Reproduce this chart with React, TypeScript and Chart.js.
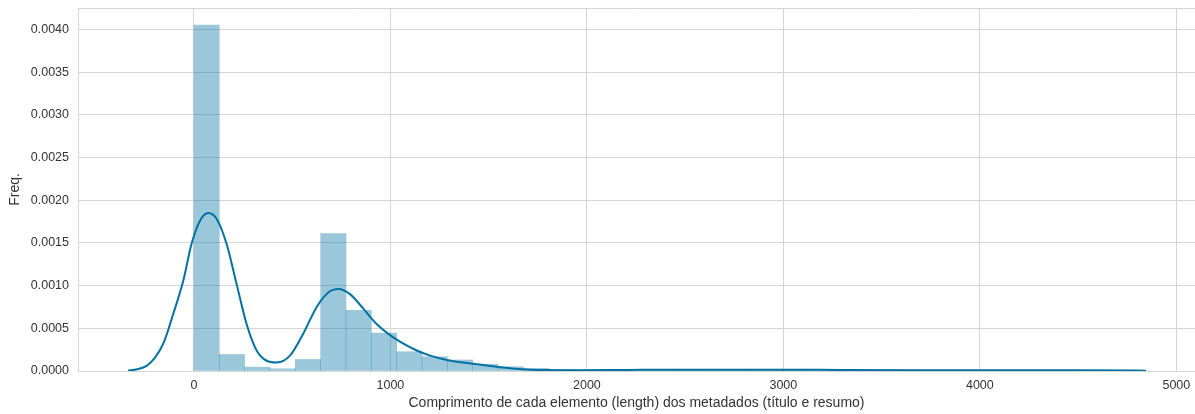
import React, { useEffect, useRef } from "react";
import { Chart, registerables } from "chart.js";

Chart.register(...registerables);

// Histogram bins (left edges, width) and density heights
const binWidth = 129;
const binLefts = [
  0, 129, 258, 387, 516, 645, 774, 903, 1032, 1161, 1290, 1419, 1548, 1677, 1806,
  1935, 2064, 2193, 2322, 2451, 2580, 2709, 2838, 2967, 3096, 3225, 3354, 3483,
  3612, 3741, 3870, 3999, 4128, 4257, 4386,
];
const binDensity = [
  0.00405, 0.000193, 0.000045, 0.000026, 0.000135, 0.00161, 0.00071, 0.000443,
  0.000226, 0.000167, 0.000129, 0.000078, 0.00005, 0.00003, 0.00002, 0.000012,
  0.000008, 0.000006, 0.000008, 0.00001, 0.000007, 0.000009, 0.000006, 0.000012,
  0.000008, 0.000005, 0.000007, 0.000004, 0.000006, 0.000003, 0.000005, 0.000002,
  0.000003, 0.000002, 0.000004,
];

// KDE curve
const kdeX = [
  -335, -290, -241, -200, -156, -105, -54, -12, 31, 73, 116, 166, 217, 268, 319,
  370, 421, 489, 557, 625, 684, 735, 794, 862, 930, 998, 1066, 1134, 1202, 1287,
  1422, 1558, 1694, 1829, 1965, 2200, 2500, 2800, 3000, 3300, 3700, 4100, 4500,
  4846,
];
const kdeY = [
  0.000005, 0.00002, 0.00006, 0.00015, 0.00032, 0.00067, 0.00106, 0.00149,
  0.00176, 0.00185, 0.00178, 0.00149, 0.00102, 0.00055, 0.00024, 0.00012, 0.0001,
  0.00018, 0.00044, 0.00075, 0.00092, 0.00096, 0.0009, 0.00073, 0.00055, 0.00042,
  0.00032, 0.00024, 0.00018, 0.00013, 0.000084, 0.000045, 0.000018, 0.00001,
  0.000008, 0.000012, 0.000016, 0.000014, 0.000016, 0.000012, 0.00001, 0.00001,
  0.000008, 0.000004,
];

const xTicks = [0, 1000, 2000, 3000, 4000, 5000];
const yTicks = [0, 0.0005, 0.001, 0.0015, 0.002, 0.0025, 0.003, 0.0035, 0.004];

const xTitle = "Comprimento de cada elemento (length) dos metadados (título e resumo)";
const yTitle = "Freq.";

const FONT = "'Liberation Sans', Arial, sans-serif";
const GRID = "#d5d5d5";

export default function App() {
  const ref = useRef<HTMLCanvasElement | null>(null);

  useEffect(() => {
    document.body.style.margin = "0";
    const canvas = ref.current;
    if (!canvas) return;
    const chart = new Chart(canvas, {
      type: "bar",
      data: {
        datasets: [
          {
            type: "line",
            data: kdeX.map((x, i) => ({ x, y: kdeY[i] })),
            borderColor: "#0272a2",
            borderWidth: 2,
            pointRadius: 0,
            fill: false,
            cubicInterpolationMode: "monotone",
            order: 0,
          } as any,
          {
            type: "bar",
            data: binLefts.map((x, i) => ({ x: x + binWidth / 2, y: binDensity[i] })),
            backgroundColor: "rgba(2,114,162,0.4)",
            borderWidth: 0,
            barPercentage: 1,
            categoryPercentage: 1,
            grouped: false,
            order: 1,
          } as any,
        ],
      },
      options: {
        animation: false,
        responsive: false,
        maintainAspectRatio: false,
        layout: { padding: { top: 8, right: 0, left: 0, bottom: 0 } },
        plugins: { legend: { display: false }, tooltip: { enabled: false } },
        scales: {
          x: {
            type: "linear",
            min: -590,
            max: 5095,
            offset: false,
            afterBuildTicks: (axis: any) => {
              axis.ticks = xTicks.map((v) => ({ value: v }));
            },
            afterFit: (axis: any) => {
              axis.height = 43;
              axis.paddingLeft = 0;
              axis.paddingRight = 0;
            },
            grid: { color: GRID, lineWidth: 1, drawTicks: false, offset: false },
            border: { display: true, color: GRID },
            ticks: {
              padding: 7,
              color: "#333",
              font: { family: FONT, size: 12.5 },
              maxRotation: 0,
              callback: (v: any) => String(v),
            },
            title: {
              display: true,
              text: xTitle,
              color: "#333",
              font: { family: FONT, size: 14 },
              padding: { top: 0, bottom: 2 },
            },
          },
          y: {
            type: "linear",
            min: 0,
            max: 0.00425,
            afterBuildTicks: (axis: any) => {
              axis.ticks = yTicks.map((v) => ({ value: v }));
            },
            afterFit: (axis: any) => {
              axis.width = 78;
              axis.paddingTop = 0;
              axis.paddingBottom = 0;
            },
            grid: { color: GRID, lineWidth: 1, drawTicks: false },
            border: { display: true, color: GRID },
            ticks: {
              padding: 9,
              color: "#333",
              font: { family: FONT, size: 12.5 },
              callback: (v: any) => Number(v).toFixed(4),
            },
            title: {
              display: true,
              text: yTitle,
              color: "#333",
              font: { family: FONT, size: 14 },
              padding: { top: 7, bottom: 0 },
            },
          },
        },
      },
      plugins: [
        {
          id: "frame",
          afterDraw: (c: any) => {
            const { ctx, chartArea } = c;
            ctx.save();
            ctx.strokeStyle = GRID;
            ctx.lineWidth = 1;
            ctx.beginPath();
            ctx.moveTo(chartArea.left, Math.round(chartArea.top) + 0.5);
            ctx.lineTo(chartArea.right, Math.round(chartArea.top) + 0.5);
            ctx.stroke();
            ctx.restore();
          },
        },
      ],
    });
    return () => chart.destroy();
  }, []);

  return (
    <div style={{ width: 1195, height: 414, position: "relative" }}>
      <canvas ref={ref} width={1195} height={414} style={{ display: "block" }} />
    </div>
  );
}
